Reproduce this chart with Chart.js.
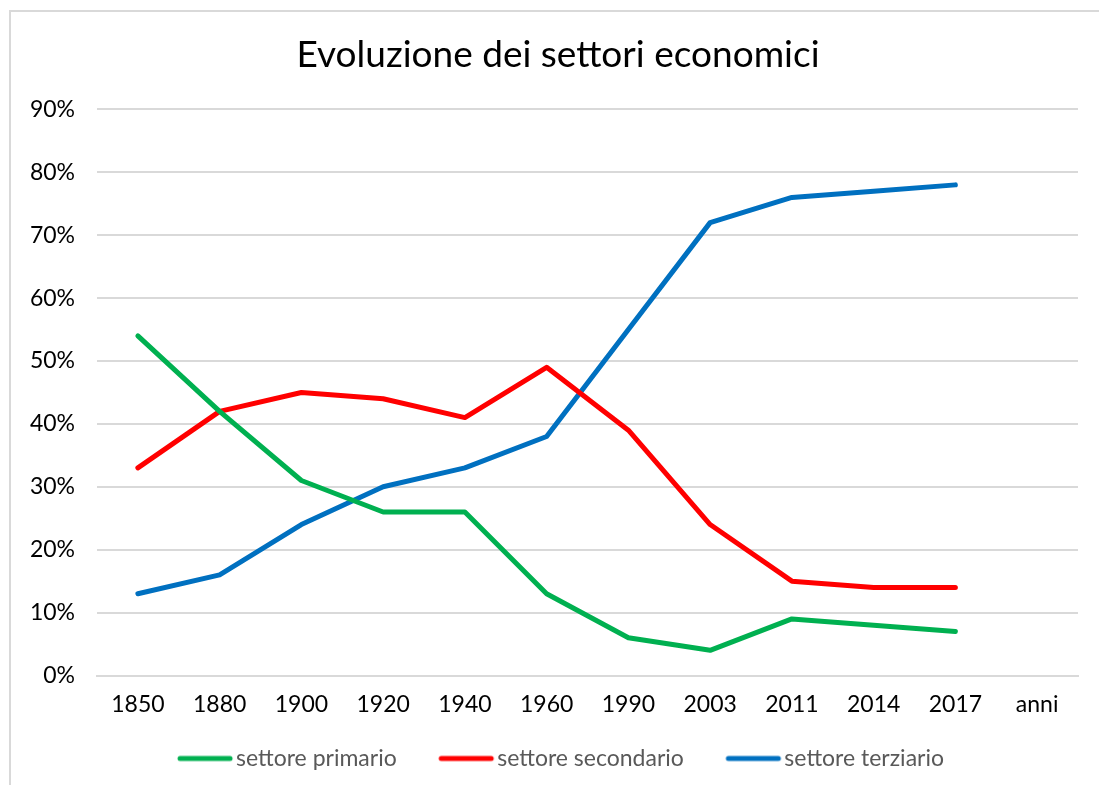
<!DOCTYPE html>
<html>
<head>
<meta charset="utf-8">
<script src="https://cdn.jsdelivr.net/npm/chart.js@4.4.1/dist/chart.umd.min.js"></script>
<style>
  html, body { margin: 0; padding: 0; background: #fff; overflow: hidden; }
  #frame { position: absolute; left: 9px; top: 10px; width: 2000px; height: 2000px;
           border-left: 2px solid #d9d9d9; border-top: 2px solid #d9d9d9; }
  #c { position: absolute; left: 0; top: 0; }
</style>
</head>
<body>
<div id="frame"></div>
<canvas id="c" width="1099" height="785"></canvas>
<script>
const categories = ['1850', '1880', '1900', '1920', '1940', '1960', '1990', '2003', '2011', '2014', '2017', 'anni'];
const primario   = [54, 42, 31, 26, 26, 13, 6, 4, 9, 8, 7, null];
const secondario = [33, 42, 45, 44, 41, 49, 39, 24, 15, 14, 14, null];
const terziario  = [13, 16, 24, 30, 33, 38, 55, 72, 76, 77, 78, null];
const seriesNames = ['settore primario', 'settore secondario', 'settore terziario'];
const seriesColors = ['#00b050', '#ff0000', '#0070c0'];
const titleText = 'Evoluzione dei settori economici';

const FONT = 'Lato, "Open Sans", sans-serif';

// legend marker: a short thick line with rounded ends
function legendLine(color) {
  const cv = document.createElement('canvas');
  cv.width = 70; cv.height = 10;
  const g = cv.getContext('2d');
  g.strokeStyle = color; g.lineWidth = 5; g.lineCap = 'round';
  g.beginPath(); g.moveTo(14, 5); g.lineTo(64, 5); g.stroke();
  return cv;
}

function ds(label, data, color) {
  return {
    label, data,
    borderColor: color, backgroundColor: color,
    borderWidth: 5, pointRadius: 0, pointHoverRadius: 0,
    pointStyle: legendLine(color),
    tension: 0, borderCapStyle: 'round', borderJoinStyle: 'round',
    spanGaps: false
  };
}

// place the legend row and title like the reference (shift only, sizes untouched)
const blockPlacement = {
  id: 'blockPlacement',
  afterLayout(chart) {
    const lg = chart.legend;
    if (lg) {
      const h = lg.bottom - lg.top;
      lg.top = 705; lg.bottom = 705 + h;
      lg.left += 8.25; lg.right += 8.25;
    }
    const tb = chart.titleBlock;
    if (tb) { tb.left += 5.5; tb.right += 5.5; }
  }
};

new Chart(document.getElementById('c'), {
  type: 'line',
  data: {
    labels: categories,
    datasets: [
      ds(seriesNames[0], primario, seriesColors[0]),
      ds(seriesNames[1], secondario, seriesColors[1]),
      ds(seriesNames[2], terziario, seriesColors[2])
    ]
  },
  plugins: [blockPlacement],
  options: {
    responsive: false,
    animation: false,
    devicePixelRatio: 1,
    layout: { padding: { left: 27, right: 21, top: 13, bottom: -10.5 } },
    plugins: {
      title: {
        display: true, text: titleText, color: '#000',
        font: { family: FONT, size: 37, weight: 'normal' },
        padding: { top: 20, bottom: 32 }
      },
      legend: {
        display: true, position: 'bottom',
        labels: {
          usePointStyle: true, pointStyleWidth: 47,
          boxHeight: 20,
          color: '#595959', padding: 42,
          font: { family: FONT, size: 23 }
        }
      },
      tooltip: { enabled: false }
    },
    scales: {
      x: {
        offset: true,
        grid: { display: false, drawTicks: false },
        border: { display: true, color: '#d9d9d9', width: 2 },
        afterFit: (s) => { s.height = 45; },
        ticks: { color: '#000', padding: 15, font: { family: FONT, size: 23 }, maxRotation: 0, autoSkip: false }
      },
      y: {
        min: 0, max: 90,
        grid: { color: '#d9d9d9', lineWidth: 2, drawTicks: false },
        border: { display: false },
        afterFit: (s) => { s.width = 70; },
        ticks: { stepSize: 10, color: '#000', padding: 22, font: { family: FONT, size: 23 },
                 callback: (v) => v + '%' }
      }
    }
  }
});
</script>
</body>
</html>
